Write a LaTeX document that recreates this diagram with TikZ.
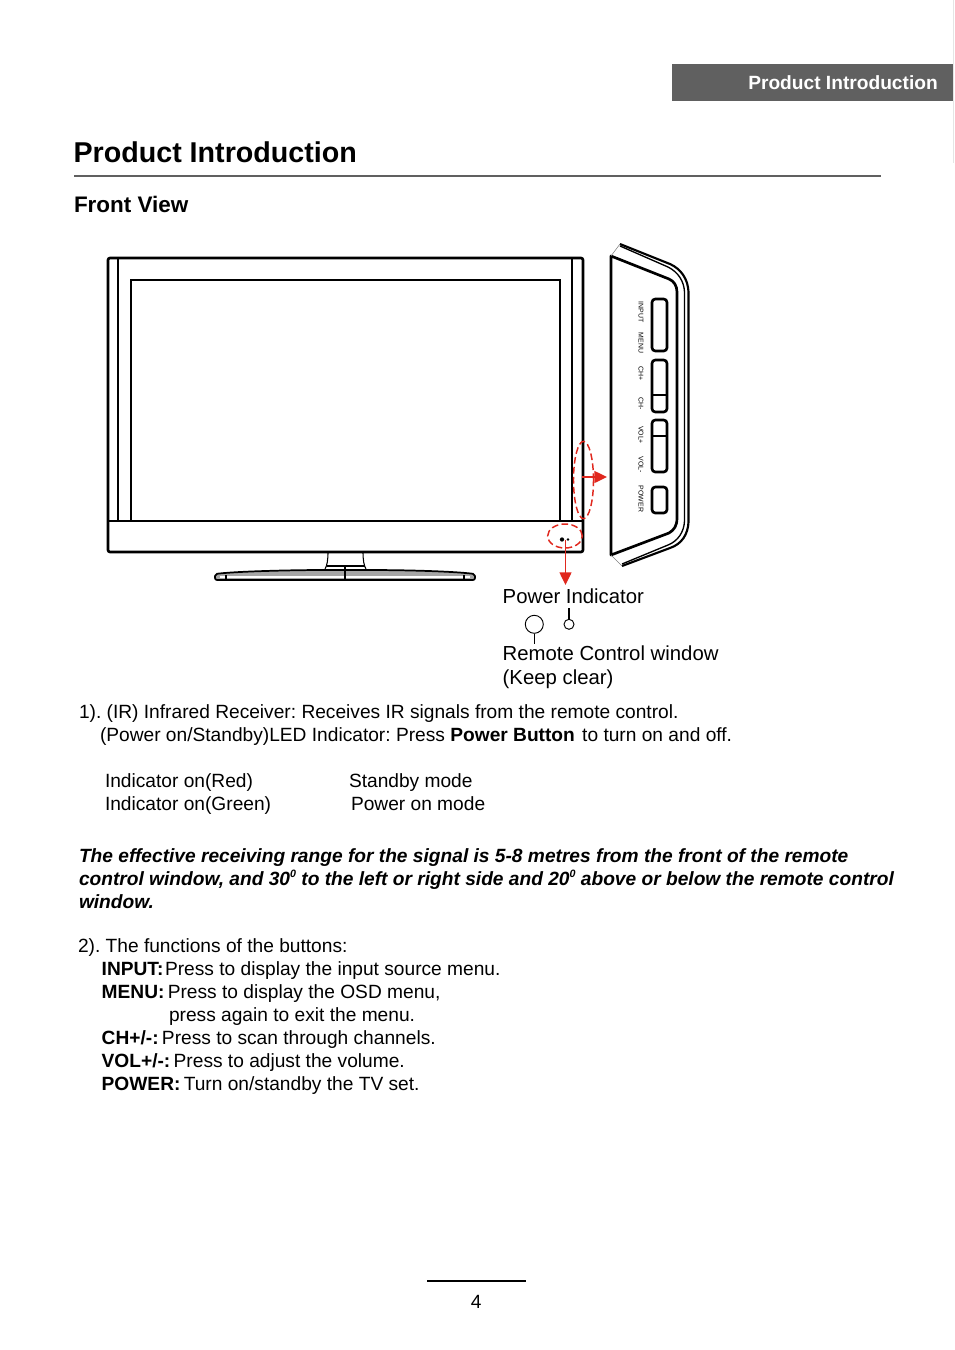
\documentclass[tikz,border=0pt]{standalone}
\usepackage{fontspec}
\setmainfont{Liberation Sans}
\usepackage{tikz}
\usetikzlibrary{shapes.geometric,arrows.meta}
\definecolor{bargray}{HTML}{606060}
\definecolor{markred}{HTML}{E0281E}
\frenchspacing
\begin{document}
\begin{tikzpicture}[x=0.75pt,y=-0.75pt,>=stealth,font=\fontsize{14.37}{18}\selectfont]
\tikzstyle{txt}=[anchor=base west,inner sep=0pt,outer sep=0pt]
\tikzstyle{lbl}=[txt,font=\fontsize{15.25}{18}\selectfont]
\tikzstyle{rangetxt}=[txt,font=\fontsize{14.37}{18}\selectfont\bfseries\itshape]
\tikzstyle{keylbl}=[inner sep=0pt,rotate=-90,font=\fontsize{5.2}{6}\selectfont]
\tikzstyle{heavy}=[line width=2pt,line join=round]
\tikzstyle{fine}=[line width=0.8pt]
\tikzstyle{keybox}=[line width=2pt,rounded corners=2.5pt]
\tikzstyle{redring}=[ellipse,draw=markred,dash pattern=on 5pt off 2.5pt,line width=1.1pt,inner sep=0pt]
\tikzstyle{redarrow}=[markred,line width=1pt,-{Triangle[length=9.5pt,width=9pt]}]
\tikzstyle{callout}=[circle,draw,line width=0.7pt,inner sep=0pt]
\useasboundingbox (0,0) rectangle (954,1350);
% page header
\draw[black!10,line width=0.75pt] (953.5,0) -- (953.5,163);
\node[fill=bargray,minimum width=210.75pt,minimum height=27.75pt,inner sep=0pt,anchor=north west] (headerbar) at (672,64) {};
\node[anchor=base east,inner sep=0pt,text=white,font=\fontsize{14.37}{18}\selectfont\bfseries] (headertext) at (938,89) {Product Introduction};
\node[txt,font=\fontsize{21.5}{26}\selectfont\bfseries] (title) at (73.5,162.5) {Product Introduction};
\draw[bargray,line width=1.2pt] (74,176) -- (881,176);
\node[txt,font=\fontsize{16.85}{20}\selectfont\bfseries] (frontview) at (74,212) {Front View};
% tv set
\draw[heavy,rounded corners=1.5pt] (108,258) rectangle (583,552);
\draw[line width=1.4pt] (108,521) -- (583,521);
\draw[fine] (118,258) -- (118,521);
\draw[fine] (572,258) -- (572,521);
\draw[line width=1.1pt] (131,280) rectangle (560,521);
% stand
\draw[fine] (328,552) .. controls (328,560) and (327,566) .. (325,569);
\draw[fine] (363,552) .. controls (363,560) and (364,566) .. (366,569);
\draw[fine] (327,566) -- (365,566);
\draw[line width=1.3pt,line join=round,fill=black!35,rounded corners=1.5pt] (215,574) .. controls (240,571) and (300,570) .. (325,570) -- (366,570) .. controls (400,570) and (450,571) .. (475,574) -- (475,580) -- (215,580) -- cycle;
\draw[white,line width=0.9pt] (220,577) -- (470,577);
\draw[fine] (345,566) -- (345,581);
\draw[fine] (226,575) -- (226,580);
\draw[fine] (464,575) -- (464,580);
% side panel
\draw[heavy] (611,256) -- (669,279) .. controls (674,281) and (677,286) .. (677,292) -- (677,518) .. controls (677,526) and (674,530) .. (669,533) -- (611,555) -- cycle;
\draw[line width=1.6pt,line join=round] (620,244) -- (670,264) .. controls (681,269) and (688,279) .. (688.5,292) -- (688.5,522) .. controls (688,534) and (682,544) .. (670,548) -- (622,566);
\draw[line width=1pt] (620,246) -- (668,267) .. controls (678,272) and (684,281) .. (684.5,292) -- (684.5,521) .. controls (684,532) and (678,541) .. (668,545) -- (622,564);
\draw[black!50,line width=0.4pt] (611,256) -- (620,244);
\draw[black!50,line width=0.4pt] (611,555) -- (622,566);
\draw[keybox] (652,299) rectangle (667,351);
\draw[keybox] (652,360) rectangle (667,412);
\draw[fine] (652,395) -- (667,395);
\draw[keybox] (652,420) rectangle (667,472);
\draw[fine] (652,436) -- (667,436);
\draw[keybox] (652,487) rectangle (667,513);
\foreach \ypos/\keyname in {312/INPUT,343/MENU,374/CH+,404/CH-,435/VOL+,465/VOL-,499/POWER}
  \node[keylbl] (key\keyname) at (641,\ypos) {\keyname};
% indicators
\node[redring,minimum width=15pt,minimum height=58pt] (sensorring) at (583.5,480) {};
\node[redring,minimum width=26pt,minimum height=18pt] (ledring) at (565,536) {};
\fill (562,539.5) circle (1.6pt);
\fill (568,539.5) circle (1pt);
\coordinate (sensorstart) at (582,477);
\coordinate (sensorend) at (607,477);
\coordinate (ledstart) at (565.5,540);
\coordinate (ledend) at (565.5,585);
\draw[redarrow] (sensorstart) -- (sensorend);
\draw[redarrow] (ledstart) -- (ledend);
% callouts
\node[lbl] (powerlabel) at (502.7,603) {Power Indicator};
\node[lbl] (remotelabel) at (502.7,660) {Remote Control window};
\node[lbl] (keepclear) at (502.7,684) {(Keep clear)};
\node[callout,minimum size=13.5pt] (bigcircle) at (534.3,624.3) {};
\node[callout,minimum size=7.5pt] (smallcircle) at (569,624.3) {};
\coordinate (bigfoot) at (534.3,644);
\coordinate (smalltop) at (569,608);
\draw[line width=0.6pt] (bigcircle) -- (bigfoot);
\draw[line width=0.9pt] (smallcircle) -- (smalltop);
% text
\node[txt] (irline) at (79,718) {1). (IR) Infrared Receiver: Receives IR signals from the remote control.};
\node[txt] (ledline) at (100,741) {(Power on/Standby)LED Indicator: Press \textbf{Power Button}\hspace{1.5pt} to turn on and off.};
\node[txt] (redname) at (105,787) {Indicator on(Red)};
\node[txt] (redmode) at (349,787) {Standby mode};
\node[txt] (greenname) at (105,810) {Indicator on(Green)};
\node[txt] (greenmode) at (351,810) {Power on mode};
\node[rangetxt] (rangea) at (79,862) {The effective receiving range for the signal is 5-8 metres from the front of the remote};
\node[rangetxt] (rangeb) at (79,885) {control window, and 30\raisebox{5.5pt}{\fontsize{8}{8}\selectfont 0} to the left or right side and 20\raisebox{5.5pt}{\fontsize{8}{8}\selectfont 0} above or below the remote control};
\node[rangetxt] (rangec) at (79,908) {window.};
\node[txt] (funcs) at (78,952) {2). The functions of the buttons:};
\node[txt] (funcinput) at (101.7,975) {\textbf{INPUT:}\hspace{1.2pt}Press to display the input source menu.};
\node[txt] (funcmenu) at (101.7,998) {\textbf{MENU:}\hspace{2.5pt}Press to display the OSD menu,};
\node[txt] (funcexit) at (169,1021) {press again to exit the menu.};
\node[txt] (funcch) at (101.7,1044) {\textbf{CH+/-:}\hspace{2.5pt}Press to scan through channels.};
\node[txt] (funcvol) at (101.7,1067) {\textbf{VOL+/-:}\hspace{2.5pt}Press to adjust the volume.};
\node[txt] (funcpower) at (101.7,1090) {\textbf{POWER:}\hspace{2.5pt}Turn on/standby the TV set.};
% page number
\draw[line width=1.1pt] (427,1281) -- (526,1281);
\node[anchor=base,inner sep=0pt] (pagenum) at (476.3,1308) {4};
\end{tikzpicture}
\end{document}
